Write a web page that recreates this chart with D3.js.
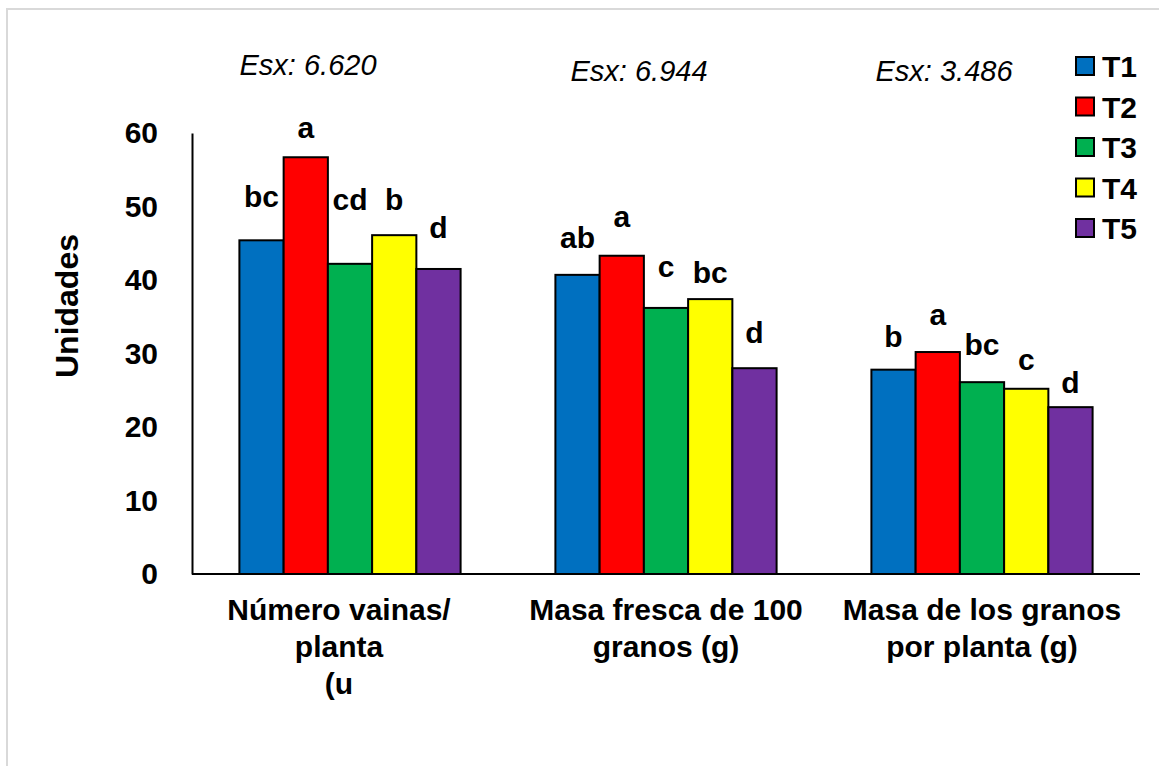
<!DOCTYPE html>
<html>
<head>
<meta charset="utf-8">
<script src="https://cdn.jsdelivr.net/npm/d3@7"></script>
<style>
  body { margin: 0; background: #fff; }
  text { font-family: "Liberation Sans", Arial, sans-serif; }
</style>
</head>
<body>
<script>
// categories (x groups) and treatments
const categories = [
  ["Número vainas/", "planta", "(u"],
  ["Masa fresca de 100", "granos (g)"],
  ["Masa de los granos", "por planta (g)"]
]
const treatments = ["T1", "T2", "T3", "T4", "T5"]
const colors = ["#0070C0", "#FF0000", "#00B050", "#FFFF00", "#7030A0"]

// bar heights, one array per category (T1..T5)
const vainas = [45.4, 56.7, 42.2, 46.1, 41.5]
const masaFresca = [40.7, 43.3, 36.2, 37.4, 28.0]
const masaGranos = [27.8, 30.2, 26.1, 25.2, 22.7]

// significance letters and the height (in axis units) where each one sits
const letters = [
  ["bc", "a", "cd", "b", "d"],
  ["ab", "a", "c", "bc", "d"],
  ["b", "a", "bc", "c", "d"]
]
const letterAt = [
  [49.9, 59.3, 49.5, 49.5, 45.7],
  [44.4, 47.2, 40.4, 39.6, 31.4],
  [30.9, 33.9, 29.8, 27.8, 24.6]
]

const esx = ["Esx: 6.620", "Esx: 6.944", "Esx: 3.486"]
const yTicks = [0, 10, 20, 30, 40, 50, 60]

const values = [vainas, masaFresca, masaGranos]

const m = { width: 1159, height: 766 }
const plot = { left: 192, right: 1140, top: 133, bottom: 574 }

const svg = d3.select("body").append("svg")
    .attr("width", m.width)
    .attr("height", m.height)

// light frame round the picture
svg.append("rect")
    .attr("x", 7).attr("y", 9)
    .attr("width", 1300).attr("height", 900)
    .attr("fill", "none")
    .attr("stroke", "#d9d9d9")
    .attr("stroke-width", 2)

const x = d3.scaleBand()
    .domain(d3.range(categories.length))
    .range([plot.left, plot.right])
    .paddingInner(0.3)
    .paddingOuter(0.15)

const xs = d3.scaleBand()
    .domain(treatments)
    .range([0, x.bandwidth()])

const y = d3.scaleLinear()
    .domain([0, 60])
    .range([plot.bottom, plot.top])

const g = svg.append("g")

// bars
const groups = g.selectAll(".grp")
  .data(values)
  .enter()
  .append("g")
    .attr("class", "grp")
    .attr("transform", (d, i) => `translate(${x(i)},0)`)

groups.selectAll("rect")
  .data(d => d.map((v, j) => ({ v: v, t: treatments[j], c: colors[j] })))
  .enter()
  .append("rect")
    .attr("x", d => xs(d.t))
    .attr("y", d => y(d.v))
    .attr("width", xs.bandwidth())
    .attr("height", d => y(0) - y(d.v))
    .attr("fill", d => d.c)
    .attr("stroke", "#000")
    .attr("stroke-width", 2)

// letters over bars
groups.selectAll(".lbl")
  .data((d, i) => letters[i].map((l, j) => ({ l: l, at: letterAt[i][j], t: treatments[j] })))
  .enter()
  .append("text")
    .attr("class", "lbl")
    .attr("x", d => xs(d.t) + xs.bandwidth() / 2)
    .attr("y", d => y(d.at))
    .attr("text-anchor", "middle")
    .attr("font-size", 30)
    .attr("font-weight", "bold")
    .text(d => d.l)

// y axis
const yAxis = d3.axisLeft(y).tickValues(yTicks).tickSize(0).tickPadding(34)
const ya = g.append("g")
    .attr("transform", `translate(${plot.left},0)`)
    .call(yAxis)
ya.select(".domain").attr("stroke", "#000").attr("stroke-width", 2)
ya.selectAll("text")
    .attr("font-size", 30)
    .attr("font-weight", "bold")
    .attr("fill", "#000")
    .style("font-family", "'Liberation Sans', Arial, sans-serif")

// x axis line
g.append("line")
    .attr("x1", plot.left).attr("x2", plot.right)
    .attr("y1", y(0)).attr("y2", y(0))
    .attr("stroke", "#000")
    .attr("stroke-width", 2)

// category labels
categories.forEach((lines, i) => {
  const t = g.append("text")
      .attr("text-anchor", "middle")
      .attr("font-size", 30)
      .attr("font-weight", "bold")
  lines.forEach((s, k) => {
    t.append("tspan")
        .attr("x", x(i) + x.bandwidth() / 2 - (i === 0 ? 11 : 0))
        .attr("y", 620 + k * 37)
        .text(s)
  })
})

// Esx notes
const esxY = [75, 81, 81]
const esxX = [308, 639, 944]
svg.selectAll(".esx")
  .data(esx)
  .enter()
  .append("text")
    .attr("x", (d, i) => esxX[i])
    .attr("y", (d, i) => esxY[i])
    .attr("text-anchor", "middle")
    .attr("font-size", 29)
    .attr("font-style", "italic")
    .text(d => d)

// y title
svg.append("text")
    .attr("transform", "translate(78,306) rotate(-90)")
    .attr("text-anchor", "middle")
    .attr("font-size", 32)
    .attr("font-weight", "bold")
    .text("Unidades")

// legend
const leg = svg.selectAll(".leg")
  .data(treatments)
  .enter()
  .append("g")
    .attr("class", "leg")
    .attr("transform", (d, i) => `translate(1076,${66 + i * 40.5})`)
leg.append("rect")
    .attr("x", 0).attr("y", -9)
    .attr("width", 18).attr("height", 18)
    .attr("fill", (d, i) => colors[i])
    .attr("stroke", "#000")
    .attr("stroke-width", 2)
leg.append("text")
    .attr("x", 26).attr("y", 11)
    .attr("font-size", 30)
    .attr("font-weight", "bold")
    .text(d => d)
</script>
</body>
</html>
